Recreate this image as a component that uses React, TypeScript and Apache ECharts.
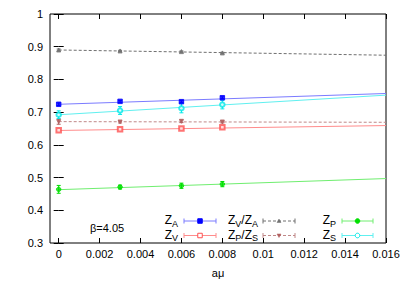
import React, { useEffect, useRef } from "react";
import * as echarts from "echarts";

const xs = [0, 0.003, 0.006, 0.008];
const zA = [0.724, 0.733, 0.732, 0.744];
const zAErr = [0.004, 0.003, 0.003, 0.003];
const zV = [0.645, 0.648, 0.65, 0.654];
const zVErr = [0.003, 0.003, 0.003, 0.003];
const zVzA = [0.89, 0.887, 0.885, 0.881];
const zVzAErr = [0.003, 0.002, 0.002, 0.002];
const zPzS = [0.671, 0.67, 0.672, 0.67];
const zPzSErr = [0.008, 0.003, 0.004, 0.003];
const zP = [0.464, 0.471, 0.475, 0.48];
const zPErr = [0.012, 0.006, 0.008, 0.008];
const zS = [0.692, 0.705, 0.712, 0.723];
const zSErr = [0.012, 0.012, 0.014, 0.013];

const fitX = [0, 0.016];
const fitA = [0.724, 0.757];
const fitV = [0.644, 0.659];
const fitVA = [0.89, 0.874];
const fitPS = [0.671, 0.669];
const fitP = [0.463, 0.497];
const fitS = [0.692, 0.752];

const xTicks = [0, 0.002, 0.004, 0.006, 0.008, 0.01, 0.012, 0.014, 0.016];

const FONT = "Liberation Sans, Arial, sans-serif";

type S = {
  name: string;
  vals: number[];
  errs: number[];
  fit: number[];
  color: string;
  lineColor: string;
  dashed: boolean;
  symbol: string;
  rotate?: number;
  size: number;
};

const sets: S[] = [
  { name: "ZA", vals: zA, errs: zAErr, fit: fitA, color: "#0000ff", lineColor: "#7b7bff", dashed: false, symbol: "rect", size: 4.5 },
  { name: "ZV", vals: zV, errs: zVErr, fit: fitV, color: "#ff5050", lineColor: "#ff8c8c", dashed: false, symbol: "emptyRect", size: 4.5 },
  { name: "ZVZA", vals: zVzA, errs: zVzAErr, fit: fitVA, color: "#707070", lineColor: "#707070", dashed: true, symbol: "triangle", size: 4 },
  { name: "ZPZS", vals: zPzS, errs: zPzSErr, fit: fitPS, color: "#b06060", lineColor: "#c08888", dashed: true, symbol: "triangle", rotate: 180, size: 4 },
  { name: "ZP", vals: zP, errs: zPErr, fit: fitP, color: "#00e000", lineColor: "#70ee70", dashed: false, symbol: "circle", size: 4.5 },
  { name: "ZS", vals: zS, errs: zSErr, fit: fitS, color: "#00e8e8", lineColor: "#60f0f0", dashed: false, symbol: "emptyCircle", size: 4.5 },
];

function buildSeries() {
  const out: any[] = [];
  sets.forEach((s) => {
    out.push({
      type: "line",
      name: s.name + "fit",
      data: fitX.map((x, i) => [x, s.fit[i]]),
      showSymbol: false,
      symbol: "none",
      lineStyle: { color: s.lineColor, width: 1, type: s.dashed ? [3, 2] : "solid" },
      z: 1,
      silent: true,
    });
    out.push({
      type: "custom",
      name: s.name + "err",
      data: xs.map((x, i) => [x, s.vals[i], s.errs[i]]),
      renderItem: (params: any, api: any) => {
        const x = api.value(0);
        const y = api.value(1);
        const e = api.value(2);
        const lo = api.coord([x, y - e]);
        const hi = api.coord([x, y + e]);
        const c = 2;
        const st = { stroke: s.color, lineWidth: 1 };
        return {
          type: "group",
          children: [
            { type: "line", shape: { x1: lo[0], y1: lo[1], x2: hi[0], y2: hi[1] }, style: st },
            { type: "line", shape: { x1: lo[0] - c, y1: lo[1], x2: lo[0] + c, y2: lo[1] }, style: st },
            { type: "line", shape: { x1: hi[0] - c, y1: hi[1], x2: hi[0] + c, y2: hi[1] }, style: st },
          ],
        };
      },
      z: 2,
      silent: true,
    });
    out.push({
      type: "scatter",
      name: s.name,
      data: xs.map((x, i) => [x, s.vals[i]]),
      symbol: s.symbol,
      symbolRotate: s.rotate || 0,
      symbolSize: s.size,
      itemStyle: { color: s.color, borderColor: s.color, borderWidth: 1 },
      z: 3,
      silent: true,
    });
  });
  return out;
}

function legendItem(label: string, tx: number, ty: number, lx1: number, lx2: number, s: S): any[] {
  const mid = (lx1 + lx2) / 2;
  const st = { stroke: s.lineColor, lineWidth: 1, lineDash: s.dashed ? [3, 2] : null };
  const items: any[] = [
    {
      type: "text",
      x: tx,
      y: ty,
      style: {
        text: label,
        align: "right",
        verticalAlign: "middle",
        fill: "#000",
        rich: {
          a: { fontSize: 12, fontFamily: FONT, lineHeight: 14, verticalAlign: "top", fill: "#000" },
          s: { fontSize: 9, fontFamily: FONT, lineHeight: 9, verticalAlign: "bottom", padding: [7, 0, 0, 0], fill: "#000" },
        },
      },
    },
    { type: "line", shape: { x1: lx1, y1: ty, x2: lx2, y2: ty }, style: st },
    { type: "line", shape: { x1: lx1, y1: ty - 2.5, x2: lx1, y2: ty + 2.5 }, style: { stroke: s.lineColor, lineWidth: 1 } },
    { type: "line", shape: { x1: lx2, y1: ty - 2.5, x2: lx2, y2: ty + 2.5 }, style: { stroke: s.lineColor, lineWidth: 1 } },
  ];
  const filled = !s.symbol.startsWith("empty");
  if (s.symbol.toLowerCase().includes("rect")) {
    items.push({ type: "rect", shape: { x: mid - 2.25, y: ty - 2.25, width: 4.5, height: 4.5 }, style: { fill: filled ? s.color : "#fff", stroke: s.color, lineWidth: 1 } });
  } else if (s.symbol.toLowerCase().includes("circle")) {
    items.push({ type: "circle", shape: { cx: mid, cy: ty, r: 2.3 }, style: { fill: filled ? s.color : "#fff", stroke: s.color, lineWidth: 1 } });
  } else {
    const up = !s.rotate;
    const pts = up
      ? [[mid - 2, ty + 1.5], [mid + 2, ty + 1.5], [mid, ty - 2]]
      : [[mid - 2, ty - 1.5], [mid + 2, ty - 1.5], [mid, ty + 2]];
    items.push({ type: "polygon", shape: { points: pts }, style: { fill: s.color, stroke: s.color, lineWidth: 0.5 } });
  }
  return items;
}

export default function App() {
  const ref = useRef<HTMLDivElement>(null);
  useEffect(() => {
    if (!ref.current) return;
    const chart = echarts.init(ref.current, null, { renderer: "svg" });
    const r1 = 221;
    const r2 = 235.5;
    const graphic: any[] = [
      ...legendItem("{a|Z}{s|A}", 178, r1, 184, 216, sets[0]),
      ...legendItem("{a|Z}{s|V}", 178, r2, 184, 216, sets[1]),
      ...legendItem("{a|Z}{s|V}{a|/Z}{s|A}", 258, r1, 263, 295, sets[2]),
      ...legendItem("{a|Z}{s|P}{a|/Z}{s|S}", 258, r2, 263, 295, sets[3]),
      ...legendItem("{a|Z}{s|P}", 336, r1, 342, 373, sets[4]),
      ...legendItem("{a|Z}{s|S}", 336, r2, 342, 373, sets[5]),
      {
        type: "text",
        x: 90,
        y: 228,
        style: { text: "β=4.05", fontSize: 11, fontFamily: FONT, fill: "#000", verticalAlign: "middle" },
      },
    ];
    const tickStyle = { lineStyle: { color: "#000", width: 1 } };
    chart.setOption({
      animation: false,
      backgroundColor: "#fff",
      grid: { left: 50, top: 14, width: 336, height: 233, show: true, borderColor: "#000", borderWidth: 1, containLabel: false },
      xAxis: [
        {
          type: "value",
          min: -0.000425,
          max: 0.016,
          name: "aμ",
          nameLocation: "middle",
          nameGap: 24,
          nameTextStyle: { fontSize: 11, fontFamily: FONT, color: "#000" },
          axisLine: { show: false },
          splitLine: { show: false },
          axisTick: { inside: true, length: 5, customValues: xTicks, ...tickStyle },
          axisLabel: { customValues: xTicks, fontSize: 11, fontFamily: FONT, color: "#000", margin: 5, formatter: (v: number) => String(+v.toFixed(3)) },
        },
        {
          type: "value",
          position: "top",
          min: -0.000425,
          max: 0.016,
          axisLine: { show: false },
          splitLine: { show: false },
          axisTick: { inside: true, length: 5, customValues: xTicks, ...tickStyle },
          axisLabel: { show: false },
        },
      ],
      yAxis: [
        {
          type: "value",
          min: 0.3,
          max: 1,
          interval: 0.1,
          axisLine: { show: false },
          splitLine: { show: false },
          axisTick: { inside: true, length: 5, ...tickStyle },
          axisLabel: { fontSize: 11, fontFamily: FONT, color: "#000", margin: 7, formatter: (v: number) => String(+v.toFixed(1)) },
        },
        {
          type: "value",
          position: "right",
          min: 0.3,
          max: 1,
          interval: 0.1,
          axisLine: { show: false },
          splitLine: { show: false },
          axisTick: { inside: true, length: 5, ...tickStyle },
          axisLabel: { show: false },
        },
      ],
      series: buildSeries(),
      graphic,
    });
    return () => chart.dispose();
  }, []);
  return <div ref={ref} style={{ width: 403, height: 283, position: "absolute", left: 0, top: 0 }} />;
}
